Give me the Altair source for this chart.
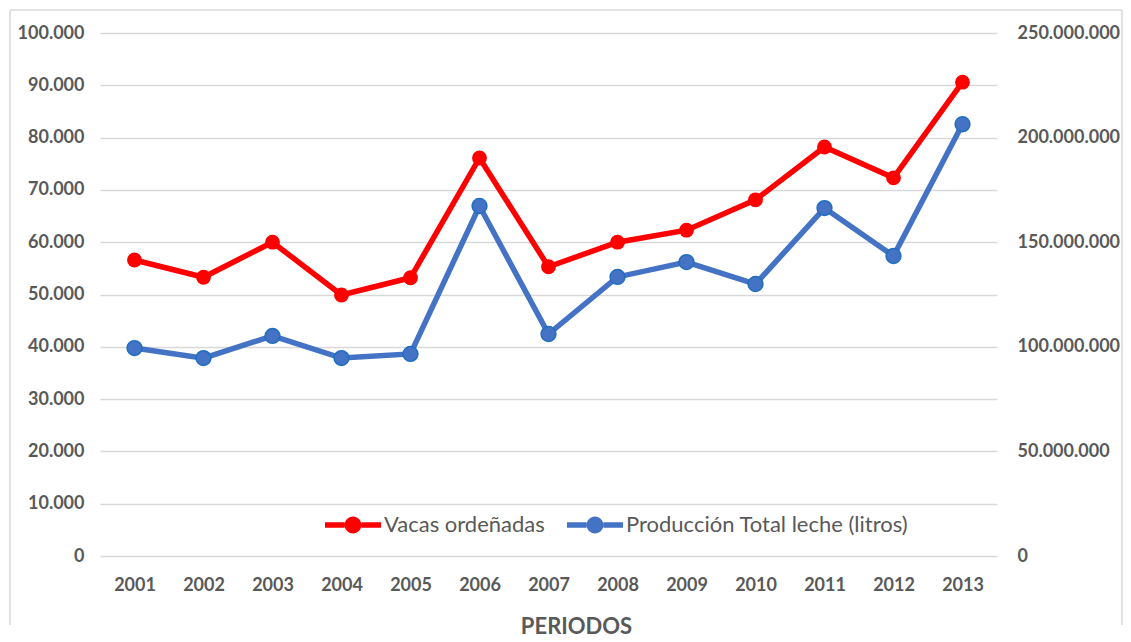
import altair as alt
import pandas as pd

years = ["2001", "2002", "2003", "2004", "2005", "2006", "2007",
         "2008", "2009", "2010", "2011", "2012", "2013"]
vacas = [56600, 53300, 60000, 49900, 53200, 76100, 55300,
         60000, 62300, 68100, 78200, 72300, 90600]
produccion = [99400000, 94600000, 105200000, 94600000, 96600000, 167300000, 106100000,
              133400000, 140500000, 130000000, 166300000, 143400000, 206400000]

s1 = "Vacas ordeñadas"
s2 = "Producción Total leche (litros)"

df1 = pd.DataFrame({"year": years, "value": vacas, "serie": s1})
df2 = pd.DataFrame({"year": years, "value": produccion, "serie": s2})

FONT = "Lato"
GRAY = "#595959"
fmt = "replace(format(datum.value, ','), /,/g, '.')"

color_scale = alt.Scale(domain=[s1, s2], range=["#FF0000", "#4472C4"])

legend_path = ("M-1,-0.1 L-0.3,-0.1 L-0.3,0.1 L-1,0.1 Z "
               "M0.3,-0.1 L1,-0.1 L1,0.1 L0.3,0.1 Z "
               "M-0.3,0 A0.3,0.3 0 1,1 0.3,0 A0.3,0.3 0 1,1 -0.3,0 Z")

x_enc = alt.X("year:O", sort=years,
              scale=alt.Scale(paddingOuter=0.52),
              axis=alt.Axis(title="PERIODOS", labelAngle=0, domain=False, ticks=False,
                            labelFont=FONT, labelFontSize=18, labelFontWeight="bold",
                            labelColor=GRAY, labelPadding=20,
                            titleFont=FONT, titleFontSize=22, titleFontWeight="bold",
                            titleColor=GRAY, titlePadding=22,
                            titleX=476, titleAlign="center"))

color_enc = alt.Color("serie:N", scale=color_scale,
                      legend=alt.Legend(title=None, orient="none", direction="horizontal",
                                        legendX=225, legendY=464,
                                        symbolType=legend_path, symbolSize=3136,
                                        symbolStrokeWidth=0, symbolOpacity=1,
                                        labelFont=FONT, labelFontSize=22, labelColor=GRAY,
                                        labelLimit=0, columnPadding=22, labelOffset=3))

left = alt.Chart(df1).mark_line(
    strokeWidth=5.5,
    point=alt.OverlayMarkDef(filled=True, size=220, opacity=1)
).encode(
    x=x_enc,
    y=alt.Y("value:Q", scale=alt.Scale(domain=[0, 100000]),
            axis=alt.Axis(title=None, values=list(range(0, 100001, 10000)),
                          labelExpr=fmt, labelOverlap=False, domain=False, ticks=False,
                          labelFont=FONT, labelFontSize=18, labelFontWeight="bold",
                          labelColor=GRAY, labelPadding=16,
                          grid=True, gridColor="#D9D9D9", gridWidth=1.5)),
    color=color_enc,
)

right = alt.Chart(df2).mark_line(
    strokeWidth=5.5,
    point=alt.OverlayMarkDef(filled=True, size=220, opacity=1,
                             stroke="#1F6FC0", strokeWidth=1.5)
).encode(
    x=x_enc,
    y=alt.Y("value:Q", scale=alt.Scale(domain=[0, 250000000]),
            axis=alt.Axis(title=None, orient="right",
                          values=list(range(0, 250000001, 50000000)),
                          labelExpr=fmt, labelOverlap=False, domain=False, ticks=False,
                          grid=False,
                          labelFont=FONT, labelFontSize=18, labelFontWeight="bold",
                          labelColor=GRAY, labelPadding=20)),
    color=color_enc,
)

frame_df = pd.DataFrame({"k": [0]})
frame_top = alt.Chart(frame_df).mark_rule(color="#D9D9D9", strokeWidth=1.5).encode(
    x=alt.value(-90), x2=alt.value(1022), y=alt.value(-23), y2=alt.value(-23))
frame_left = alt.Chart(frame_df).mark_rule(color="#D9D9D9", strokeWidth=1.5).encode(
    x=alt.value(-90), x2=alt.value(-90), y=alt.value(-23), y2=alt.value(592))
frame_right = alt.Chart(frame_df).mark_rule(color="#D9D9D9", strokeWidth=1.5).encode(
    x=alt.value(1022), x2=alt.value(1022), y=alt.value(-23), y2=alt.value(592))

chart = alt.layer(left, right, frame_top, frame_left, frame_right).resolve_scale(
    y="independent"
).properties(
    width=897, height=523,
    padding={"left": 1, "top": 1, "right": 0, "bottom": 0},
).configure_view(stroke=None)

chart.save("out.html", embed_options={"renderer": "svg", "actions": False})
